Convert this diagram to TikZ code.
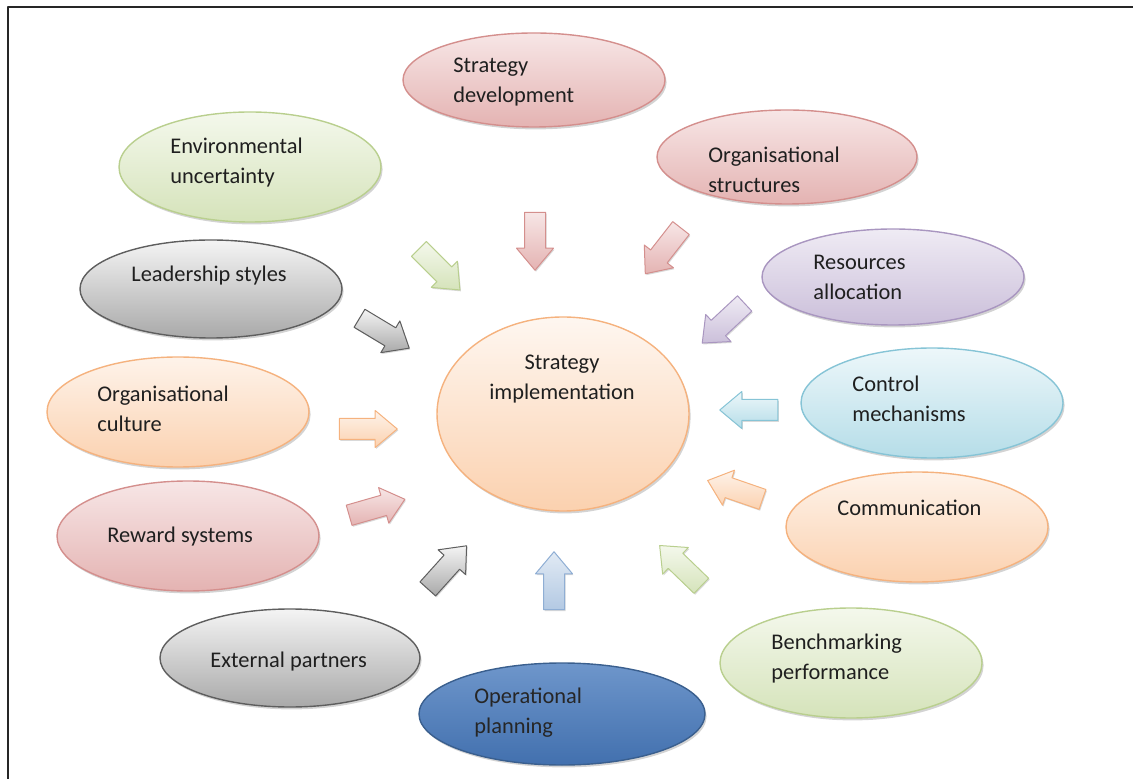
\documentclass[tikz,border=0pt]{standalone}
\usepackage{fontspec}
\setmainfont{Carlito}
\usetikzlibrary{shapes.geometric,shapes.arrows,shadows}

\definecolor{ink}{HTML}{1F1F1F}
\definecolor{rosetop}{HTML}{F7E6E6}\definecolor{rosebot}{HTML}{E4B3B2}\definecolor{roseline}{HTML}{D48F8D}
\definecolor{leaftop}{HTML}{F4F8EC}\definecolor{leafbot}{HTML}{D5E3BA}\definecolor{leafline}{HTML}{B9CF8E}
\definecolor{greytop}{HTML}{F4F4F4}\definecolor{greybot}{HTML}{A9A9A9}\definecolor{greyline}{HTML}{5E5E5E}
\definecolor{lilactop}{HTML}{EFEBF4}\definecolor{lilacbot}{HTML}{CBBFDA}\definecolor{lilacline}{HTML}{A996C0}
\definecolor{peachtop}{HTML}{FEF3EA}\definecolor{peachbot}{HTML}{FBD1AF}\definecolor{peachline}{HTML}{F5B27E}
\definecolor{aquatop}{HTML}{EDF7FA}\definecolor{aquabot}{HTML}{B5DDE8}\definecolor{aqualine}{HTML}{86C4D6}
\definecolor{navytop}{HTML}{6E96CB}\definecolor{navybot}{HTML}{4270AE}\definecolor{navyline}{HTML}{3A5F8E}
\definecolor{skytop}{HTML}{E1EAF4}\definecolor{skybot}{HTML}{B3C9E3}\definecolor{skyline}{HTML}{8FAED4}

\begin{document}
\begin{tikzpicture}[x=0.5pt, y=-0.5pt, font=\fontsize{11.2}{15}\selectfont, line join=round,
	bubble/.style={ellipse, inner sep=0pt, line width=0.7pt, draw=#1line, top color=#1top, bottom color=#1bot,
		drop shadow={shadow xshift=0.8pt, shadow yshift=-1.2pt, opacity=0.35}},
	txt/.style={anchor=west, align=left, inner sep=0pt, text=ink},
	blockarrow/.style={single arrow, inner xsep=0pt, inner ysep=5pt, line width=0.5pt, draw=#1line, top color=#1top, bottom color=#1bot,
		minimum height=29pt, minimum width=18pt, single arrow head extend=4pt, single arrow tip angle=80,
		drop shadow={shadow xshift=0.5pt, shadow yshift=-0.7pt, opacity=0.3}}]
	\useasboundingbox (0,0) rectangle (1133,779);
	\draw[line width=1.3pt, black!85] (8,779) -- (8,7) -- (1133,7);

	% bubbles round the centre
	\node[bubble=rose, minimum width=131pt, minimum height=47pt] (dev) at (534,80) {};
	\node[bubble=leaf, minimum width=131pt, minimum height=55pt] (env) at (250,167) {};
	\node[bubble=rose, minimum width=130pt, minimum height=47pt] (struct) at (787,157) {};
	\node[bubble=grey, minimum width=131pt, minimum height=49pt] (lead) at (211,289) {};
	\node[bubble=lilac, minimum width=131pt, minimum height=48pt] (res) at (893,277) {};
	\node[bubble=peach, minimum width=131pt, minimum height=55pt] (cult) at (178,412) {};
	\node[bubble=aqua, minimum width=131pt, minimum height=55pt] (ctrl) at (932,403) {};
	\node[bubble=rose, minimum width=131pt, minimum height=55pt] (rew) at (188,536) {};
	\node[bubble=peach, minimum width=131pt, minimum height=55pt] (comm) at (917,527) {};
	\node[bubble=grey, minimum width=130pt, minimum height=49pt] (ext) at (290,658) {};
	\node[bubble=leaf, minimum width=131pt, minimum height=55pt] (bench) at (851,663) {};
	\node[bubble=navy, minimum width=143pt, minimum height=51pt] (ops) at (562,714) {};
	\node[bubble=peach, minimum width=126pt, minimum height=97pt, top color=peachtop!70!white] (impl) at (563,414) {};

	\node[txt] (dev-t) at (453,82) {Strategy\\development};
	\node[txt] (env-t) at (170,163) {Environmental\\uncertainty};
	\node[txt] (struct-t) at (708,170) {Organisational\\structures};
	\node[txt] (lead-t) at (131,276) {Leadership styles};
	\node[txt] (res-t) at (813,277) {Resources\\allocation};
	\node[txt] (cult-t) at (97,409) {Organisational\\culture};
	\node[txt] (ctrl-t) at (852,399) {Control\\mechanisms};
	\node[txt] (rew-t) at (107,537) {Reward systems};
	\node[txt] (comm-t) at (837,508) {Communication};
	\node[txt] (ext-t) at (210,662) {External partners};
	\node[txt] (bench-t) at (771,659) {Benchmarking\\performance};
	\node[txt, text=black!85] (ops-t) at (474,713) {Operational\\planning};
	\node[txt, anchor=center, align=center] (impl-t) at (562,379) {Strategy\\implementation};

	% block arrows pointing in
	\foreach \n/\x/\y/\a/\c in {envar/435/265/-45/leaf, devar/535/235/-90/rose, structar/667/246/232/rose,
		leadar/379/330/-31/grey, resar/728/319/223/lilac, cultar/362/429/0/peach, ctrlar/755/410/180/aqua,
		rewar/371/509/16/rose, commar/741/492/161/peach, extar/443/572/48/grey, opsar/554/587/90/sky,
		benchar/685/570/136/leaf}
		\node[blockarrow=\c, rotate=\a] (\n) at (\x,\y) {};
\end{tikzpicture}
\end{document}
